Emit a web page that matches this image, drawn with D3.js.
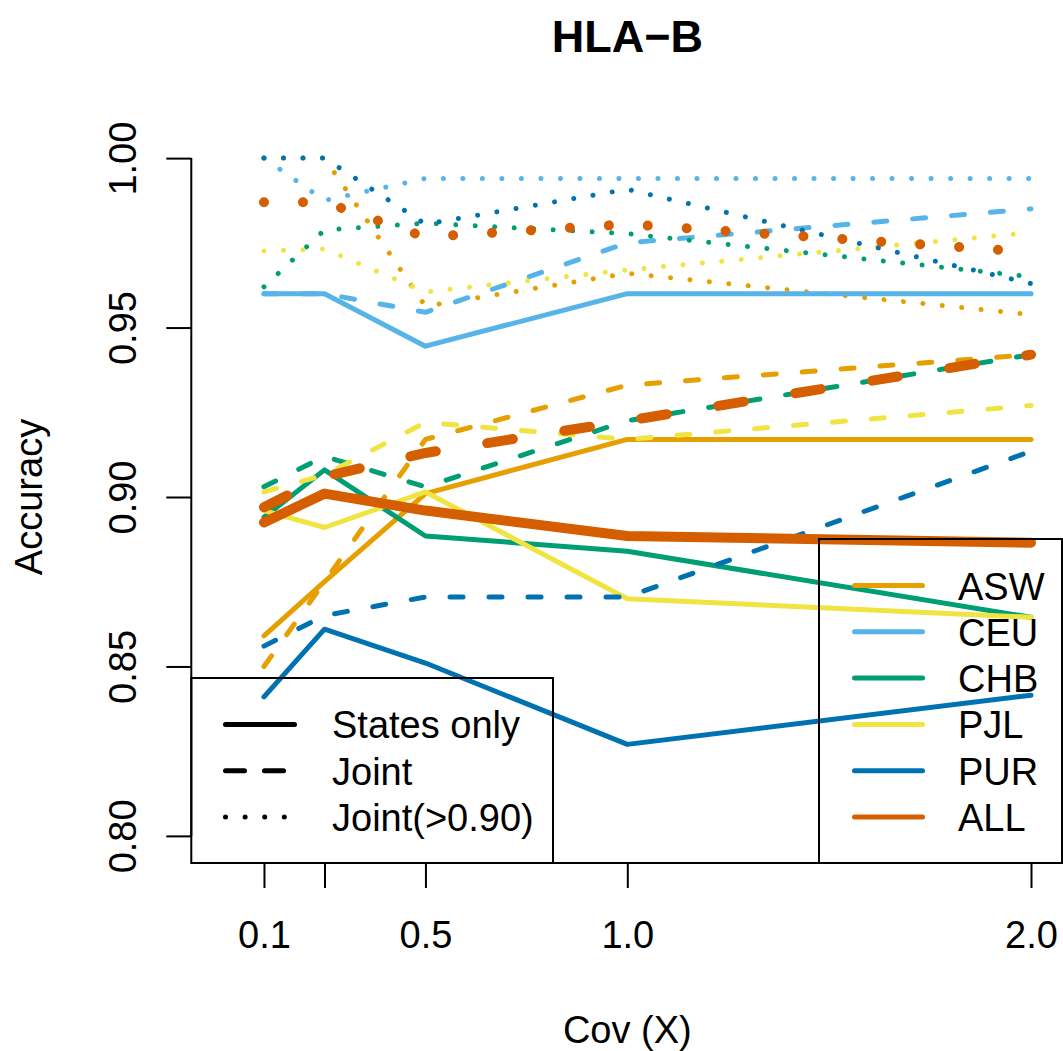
<!DOCTYPE html>
<html>
<head>
<meta charset="utf-8">
<script src="https://cdn.jsdelivr.net/npm/d3@7"></script>
<style>
  body { margin: 0; background: #ffffff; }
  svg { display: block; }
  text { font-family: "Liberation Sans", Arial, Helvetica, sans-serif; fill: #000; }
</style>
</head>
<body>
<svg id="chart" width="1063" height="1051"></svg>
<script>
// ---- data -------------------------------------------------------------
const covs = [0.1, 0.25, 0.5, 1.0, 2.0];
const xTickLabels = ["0.1", "", "0.5", "1.0", "2.0"];
const yTicks = [0.80, 0.85, 0.90, 0.95, 1.00];
const yTickLabels = ["0.80", "0.85", "0.90", "0.95", "1.00"];

const populations = ["ASW", "CEU", "CHB", "PJL", "PUR", "ALL"];
const popColors = ["#E69F00", "#56B4E9", "#009E73", "#F0E442", "#0072B2", "#D55E00"];
const methods = ["States only", "Joint", "Joint(>0.90)"];

// accuracy, states only
const aswStates = [0.859, 0.875, 0.901, 0.917, 0.917];
const ceuStates = [0.960, 0.960, 0.9445, 0.960, 0.960];
const chbStates = [0.894, 0.908, 0.8885, 0.884, 0.8645];
const pjlStates = [0.896, 0.891, 0.9015, 0.870, 0.8645];
const purStates = [0.841, 0.861, 0.851, 0.827, 0.8415];
const allStates = [0.8925, 0.901, 0.896, 0.8885, 0.8865];

// accuracy, joint
const aswJoint = [0.850, 0.875, 0.917, 0.933, 0.942];
const ceuJoint = [0.960, 0.960, 0.9545, 0.975, 0.985];
const chbJoint = [0.903, 0.912, 0.903, 0.9225, 0.942];
const pjlJoint = [0.9015, 0.9065, 0.922, 0.917, 0.927];
const purJoint = [0.856, 0.865, 0.8705, 0.8705, 0.9135];
const allJoint = [0.897, 0.906, 0.913, 0.9225, 0.942];

// accuracy, joint calls with posterior > 0.90
const aswJoint90 = [1.000, 1.000, 0.9563, 0.966, 0.9538];
const ceuJoint90 = [1.000, 0.9875, 0.994, 0.994, 0.994];
const chbJoint90 = [0.962, 0.9788, 0.9808, 0.9777, 0.965];
const pjlJoint90 = [0.9726, 0.9732, 0.9605, 0.967, 0.978];
const purJoint90 = [1.000, 1.000, 0.9805, 0.9908, 0.963];
const allJoint90 = [0.987, 0.987, 0.9767, 0.9805, 0.9723];

const statesBy = [aswStates, ceuStates, chbStates, pjlStates, purStates, allStates];
const jointBy = [aswJoint, ceuJoint, chbJoint, pjlJoint, purJoint, allJoint];
const joint90By = [aswJoint90, ceuJoint90, chbJoint90, pjlJoint90, purJoint90, allJoint90];

// ---- layout -----------------------------------------------------------
const svg = d3.select("#chart");
const plot = { left: 191.3, right: 1063.3, top: 131, bottom: 863 };
const FONT = 38;

// usr range padded 4% beyond xlim [0, 2] and ylim [0.8, 1.0]
const x = d3.scaleLinear().domain([-0.08, 2.08]).range([plot.left, plot.right]);
const y = d3.scaleLinear().domain([0.792, 1.008]).range([plot.bottom, plot.top]);

const baseWidth = 5;
function strokeWidth(pop) { return pop === "ALL" ? 10 : baseWidth; }
function dashFor(methodIdx, w) {
  if (methodIdx === 1) return `${2.6 * w},${5.2 * w}`;
  if (methodIdx === 2) return `0.01,${3.9 * w}`;
  return null;
}

const line = d3.line().x((d, i) => x(covs[i])).y(d => y(d));

// ---- series -----------------------------------------------------------
const series = [];
populations.forEach((p, i) => {
  [statesBy, jointBy, joint90By].forEach((src, m) => {
    series.push({ pop: p, color: popColors[i], method: m, values: src[i] });
  });
});

svg.append("g").attr("class", "series")
  .selectAll("path").data(series).join("path")
  .attr("d", d => line(d.values))
  .attr("fill", "none")
  .attr("stroke", d => d.color)
  .attr("stroke-width", d => strokeWidth(d.pop))
  .attr("stroke-linecap", "round")
  .attr("stroke-linejoin", "round")
  .attr("stroke-dasharray", d => dashFor(d.method, strokeWidth(d.pop)));

// ---- axes -------------------------------------------------------------
const yAxis = d3.axisLeft(y).tickValues(yTicks).tickSize(25).tickSizeOuter(0)
  .tickFormat((d, i) => yTickLabels[i]);
const gy = svg.append("g").attr("transform", `translate(${plot.left},0)`).call(yAxis);
gy.select(".domain").remove();
gy.append("line")
  .attr("x1", 0).attr("x2", 0)
  .attr("y1", y(yTicks[0])).attr("y2", y(yTicks[yTicks.length - 1]))
  .attr("stroke", "#000").attr("stroke-width", 2);
gy.selectAll(".tick line").attr("stroke", "#000").attr("stroke-width", 2);
gy.selectAll(".tick text")
  .attr("x", null).attr("dy", null)
  .attr("transform", "translate(-55,0) rotate(-90)")
  .attr("text-anchor", "middle")
  .style("font-size", FONT + "px")
  .style("font-family", '"Liberation Sans", Arial, sans-serif');

const xAxis = d3.axisBottom(x).tickValues(covs).tickSize(25).tickSizeOuter(0)
  .tickFormat((d, i) => xTickLabels[i]);
const gx = svg.append("g").attr("transform", `translate(0,${plot.bottom})`).call(xAxis);
gx.select(".domain").remove();
gx.append("line")
  .attr("x1", x(covs[0])).attr("x2", x(covs[covs.length - 1]))
  .attr("y1", 0).attr("y2", 0)
  .attr("stroke", "#000").attr("stroke-width", 2);
gx.selectAll(".tick line").attr("stroke", "#000").attr("stroke-width", 2);
gx.selectAll(".tick text")
  .attr("y", 85).attr("dy", null)
  .style("font-size", FONT + "px")
  .style("font-family", '"Liberation Sans", Arial, sans-serif');

// ---- titles -----------------------------------------------------------
const midX = (plot.left + plot.right) / 2;
svg.append("text")
  .attr("x", midX).attr("y", 52)
  .attr("text-anchor", "middle")
  .style("font-size", "45px").style("font-weight", "bold")
  .text("HLA\u2212B");

svg.append("text")
  .attr("x", midX).attr("y", 1043)
  .attr("text-anchor", "middle")
  .style("font-size", FONT + "px")
  .text("Cov (X)");

svg.append("text")
  .attr("transform", `translate(42,${(plot.top + plot.bottom) / 2}) rotate(-90)`)
  .attr("text-anchor", "middle")
  .style("font-size", FONT + "px")
  .text("Accuracy");

// ---- legends ----------------------------------------------------------
const rowGap = 46.3;
const lastRowY = 817;

// method legend (bottom left)
const lgA = svg.append("g");
lgA.append("rect")
  .attr("x", plot.left).attr("y", 678)
  .attr("width", 553 - plot.left).attr("height", plot.bottom - 678)
  .attr("fill", "none").attr("stroke", "#000").attr("stroke-width", 2);
const legendDash = [null, "19,20", "0.01,19.6"];
methods.forEach((m, i) => {
  const yy = lastRowY - (methods.length - 1 - i) * rowGap;
  lgA.append("line")
    .attr("x1", 225.5).attr("x2", 294.5).attr("y1", yy).attr("y2", yy)
    .attr("stroke", "#000").attr("stroke-width", 5)
    .attr("stroke-linecap", "round")
    .attr("stroke-dasharray", legendDash[i]);
  lgA.append("text")
    .attr("x", 332).attr("y", yy + 14)
    .style("font-size", FONT + "px")
    .text(m);
});

// population legend (bottom right)
const lgB = svg.append("g");
lgB.append("rect")
  .attr("x", 819).attr("y", 539)
  .attr("width", 1062 - 819).attr("height", plot.bottom - 539)
  .attr("fill", "none").attr("stroke", "#000").attr("stroke-width", 2);
populations.forEach((p, i) => {
  const yy = lastRowY - (populations.length - 1 - i) * rowGap;
  lgB.append("line")
    .attr("x1", 854.5).attr("x2", 922.5).attr("y1", yy).attr("y2", yy)
    .attr("stroke", popColors[i]).attr("stroke-width", 5)
    .attr("stroke-linecap", "round");
  lgB.append("text")
    .attr("x", 958).attr("y", yy + 14)
    .style("font-size", FONT + "px")
    .text(p);
});
</script>
</body>
</html>
